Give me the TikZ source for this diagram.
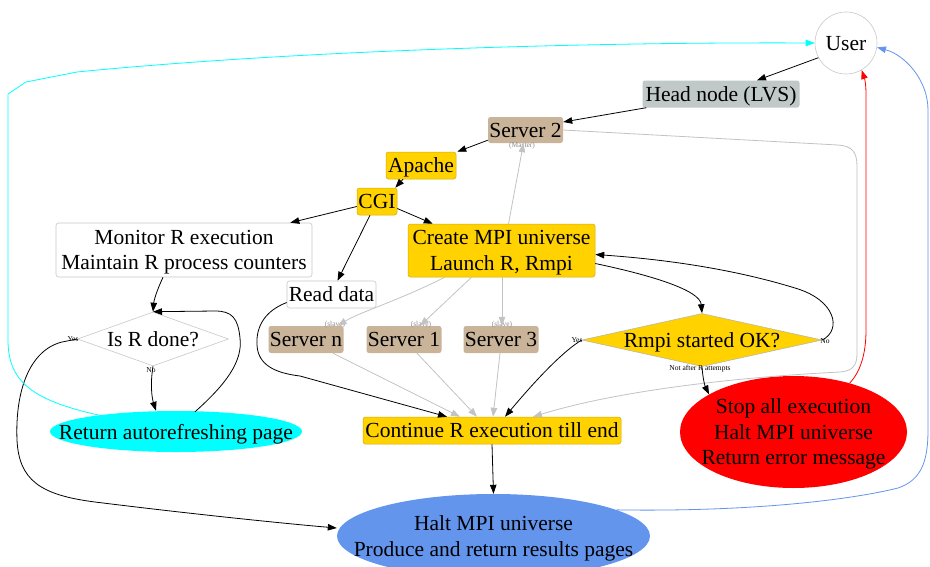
\documentclass[tikz,border=0pt]{standalone}
\usepackage{fontspec}
\setmainfont{Liberation Serif}
\usetikzlibrary{arrows.meta,shapes.geometric,calc}
\definecolor{boxgold}{RGB}{255,210,0}
\definecolor{goldline}{RGB}{215,175,0}
\definecolor{servertan}{RGB}{201,180,154}
\definecolor{headgray}{RGB}{192,201,199}
\definecolor{edgegray}{RGB}{195,195,195}
\definecolor{labelgray}{RGB}{140,140,140}
\definecolor{haltblue}{RGB}{100,149,237}
\definecolor{outlinegray}{RGB}{200,200,200}
\definecolor{errred}{RGB}{255,0,0}
\definecolor{refreshcyan}{RGB}{0,255,255}
\begin{document}
\begin{tikzpicture}[x=1pt,y=-1pt,
  nodefont/.style={inner sep=0pt, text depth=0pt, font=\fontsize{21.5}{25.5}\selectfont, align=center},
  goldbox/.style={nodefont, rectangle, rounded corners=2.5pt, fill=boxgold, draw=goldline, line width=0.5pt},
  tanbox/.style={nodefont, rectangle, rounded corners=2.5pt, fill=servertan},
  plainbox/.style={nodefont, rectangle, rounded corners=2.5pt, fill=white, draw=outlinegray, line width=0.6pt},
  oval/.style={nodefont, ellipse, inner xsep=-40pt, inner ysep=0pt},
  smalllabel/.style={inner sep=0pt, font=\fontsize{7.5}{8}\selectfont},
  slavelabel/.style={smalllabel, text=labelgray},
  arr/.style={draw=black, line width=0.8pt, -{Triangle[length=9pt,width=6.5pt]}},
  garr/.style={draw=edgegray, line width=0.8pt, -{Triangle[length=9pt,width=6.5pt]}},
]
\clip (0,0) rectangle (930,566);
\fill[white] (0,0) rectangle (930,566);

% ---- nodes ----
\node[nodefont, circle, draw=outlinegray, fill=white, line width=0.6pt, minimum size=62pt] (user) at (846,43) {User};
\node[nodefont, rectangle, rounded corners=2.5pt, fill=headgray, minimum width=157pt, minimum height=27pt] (head) at (721,94) {Head node (LVS)};
\node[tanbox, minimum width=75pt, minimum height=26pt] (server2) at (525.5,130) {Server 2};
\node[goldbox, minimum width=70pt, minimum height=27pt] (apache) at (421,165.5) {Apache};
\node[goldbox, minimum width=40pt, minimum height=27pt] (cgi) at (377,201.5) {CGI};
\node[plainbox, minimum width=256pt, minimum height=54pt] (monitor) at (184,250) {Monitor R execution\\ Maintain R process counters};
\node[goldbox, minimum width=187pt, minimum height=53pt] (create) at (501.5,250.5) {Create MPI universe\\ Launch R, Rmpi};
\node[plainbox, minimum width=89pt, minimum height=27pt] (read) at (331.5,294.5) {Read data};
\node[tanbox, minimum width=75pt, minimum height=27pt] (servern) at (306,339.5) {Server n};
\node[tanbox, minimum width=75pt, minimum height=27pt] (server1) at (404,339.5) {Server 1};
\node[tanbox, minimum width=75pt, minimum height=27pt] (server3) at (501,339.5) {Server 3};
\node[nodefont, diamond, shape aspect=2.8, draw=outlinegray, fill=white, line width=0.6pt, minimum width=151pt, minimum height=54pt] (isdone) at (153,339) {Is R done?};
\node[nodefont, diamond, shape aspect=4.5, draw=black!30, fill=boxgold, line width=0.5pt, minimum width=240pt, minimum height=53pt] (rmpi) at (702,340) {Rmpi started OK?};
\node[goldbox, minimum width=258pt, minimum height=27pt] (cont) at (492,430.5) {Continue R execution till end};
\node[oval, fill=errred, minimum width=227pt, minimum height=112pt] (stop) at (793.5,432) {Stop all execution\\ Halt MPI universe\\ Return error message};
\node[oval, fill=refreshcyan, minimum width=252pt, minimum height=41pt] (ret) at (176,431.5) {Return autorefreshing page};
\node[oval, fill=haltblue, minimum width=313pt, minimum height=84pt] (halt) at (493.5,536) {Halt MPI universe\\ Produce and return results pages};

% ---- edge labels ----
\node[slavelabel] (lblmaster) at (522,146) {(Master)};
\node[slavelabel] (lblslaven) at (335,325) {(slave)};
\node[slavelabel] (lblslave1) at (421,325) {(slave)};
\node[slavelabel] (lblslave3) at (502,325) {(slave)};
\node[smalllabel] (lblyesdone) at (73,339) {Yes};
\node[smalllabel] (lblnodone) at (151,370) {No};
\node[smalllabel] (lblyesrmpi) at (577,340) {Yes};
\node[smalllabel] (lblnormpi) at (825,341) {No};
\node[smalllabel] (lblretry) at (700,369) {Not after R attempts};

% ---- request path ----
\draw[arr] (user.208) -- ($(head.north)+(36,0)$);
\draw[arr] ($(head.south west)+(4,0)$) -- ($(server2.east)+(0,-8)$);
\draw[arr] ($(server2.south west)+(0,-3)$) -- ($(apache.north east)+(1,0)$);
\draw[arr] ($(apache.south)+(-18,0)$) -- ($(cgi.north east)+(-2,0)$);
\draw[arr] ($(cgi.west)+(0,5)$) -- ($(monitor.north east)+(-22,0)$);
\draw[arr] ($(cgi.south)+(-7,0)$) -- ($(read.north)+(6,0)$);
\draw[arr] ($(cgi.east)+(0,7)$) -- ($(create.north west)+(25,0)$);

% ---- cluster links ----
\draw[garr] ($(create.north)+(7,0)$) -- ($(server2.south)+(-2,0)$);
\draw[garr] ($(create.south west)+(37,0)$) .. controls (400,300) and (360,312) .. ($(servern.north east)+(-6,0)$);
\draw[garr] ($(create.south)+(-30,0)$) -- ($(server1.north)+(16,0)$);
\draw[garr] ($(create.south)+(0.5,0)$) -- ($(server3.north)+(1,0)$);
\draw[garr] ($(servern.south)+(27,0)$) -- ($(cont.north)+(-32,0)$);
\draw[garr] ($(server1.south)+(13,0)$) -- ($(cont.north)+(-15,0)$);
\draw[garr] ($(server3.south)+(-1,0)$) -- ($(cont.north)+(1,0)$);
\draw[garr] (server2.east) -- (838,145) .. controls (852,146) and (857,152) .. (857,166)
  -- (857,354) .. controls (857,366) and (852,371) .. (840,372)
  .. controls (740,377) and (620,390) .. ($(cont.north)+(41,0)$);

% ---- Rmpi start-up ----
\draw[arr] ($(create.east)+(0,13)$) .. controls (650,275) and (700,290) .. (rmpi.north);
\draw[arr] (rmpi.east) .. controls (842,330) and (836,300) .. (795,288)
  .. controls (730,268) and (660,259) .. ($(create.east)+(0,4)$);
\draw[arr] (rmpi.west) .. controls (565,350) and (540,375) .. ($(cont.north)+(13,0)$);
\draw[arr] (rmpi.south) .. controls (703,380) and (705,386) .. (stop.156);

% ---- data and monitoring ----
\draw[arr] ($(read.west)+(0,8)$) .. controls (262,312) and (256,330) .. (257,345)
  .. controls (258,365) and (275,373) .. (300,376) -- ($(cont.north)+(-45,0)$);
\draw[arr] ($(monitor.south)+(-21,0)$) .. controls (157,290) and (154,300) .. (isdone.north);
\draw[arr] (isdone.south) .. controls (150,385) and (152,398) .. ($(ret.north)+(-20,0)$);
\draw[arr] ($(ret.north)+(19,1)$) .. controls (225,385) and (243,362) .. (240,338)
  .. controls (238,318) and (232,311) .. (215,311) -- (isdone.north);
\draw[arr] (isdone.west) -- (62,342) .. controls (30,350) and (15,390) .. (17,440)
  .. controls (19,480) and (40,495) .. (95,502) .. controls (200,515) and (290,524) .. ($(halt.west)+(0,-8)$);
\draw[arr] (cont.south) -- (halt.north);

% ---- replies to the user ----
\draw[draw=refreshcyan, line width=0.8pt, -{Triangle[length=9pt,width=6.5pt]}]
  (ret.168) .. controls (30,400) and (8,380) .. (8,340) -- (8,94) -- (26,82) -- (77,72)
  .. controls (300,50) and (600,42) .. (user.west);
\draw[draw=haltblue, line width=0.8pt, -{Triangle[length=9pt,width=6.5pt]}]
  (halt.12) .. controls (750,512) and (850,500) .. (898,488)
  .. controls (922,480) and (928,460) .. (928,430) -- (928,110)
  .. controls (928,80) and (905,55) .. (user.-8);
\draw[draw=errred, line width=0.8pt, -{Triangle[length=9pt,width=6.5pt]}]
  (stop.41) .. controls (860,372) and (866,355) .. (866,330) -- (866,95)
  .. controls (866,85) and (865,80) .. (user.-60);
\end{tikzpicture}
\end{document}
